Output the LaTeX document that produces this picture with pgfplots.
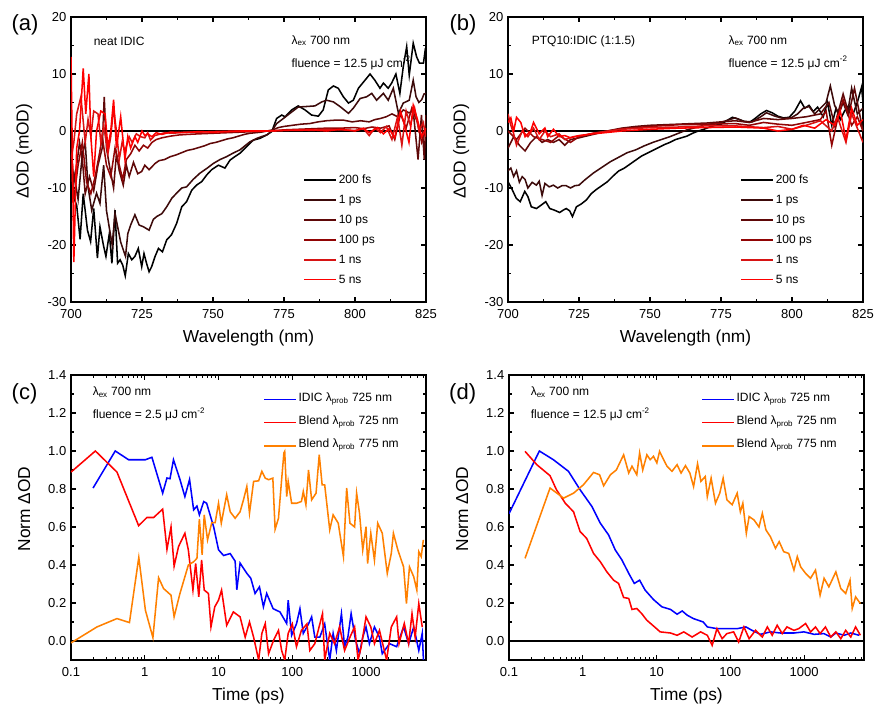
\documentclass[border=0pt]{standalone}
\usepackage{fontspec}
\setmainfont{Liberation Sans}
\usepackage{pgfplots}
\pgfplotsset{compat=1.18}
\definecolor{c0}{RGB}{0,0,0}
\definecolor{c1}{RGB}{60,10,10}
\definecolor{c2}{RGB}{95,8,8}
\definecolor{c3}{RGB}{145,5,5}
\definecolor{c4}{RGB}{215,20,20}
\definecolor{c5}{RGB}{255,0,0}
\definecolor{myblue}{RGB}{0,0,255}
\definecolor{myred}{RGB}{255,0,0}
\definecolor{myorange}{RGB}{255,128,0}
\pgfplotsset{
 myaxis/.style={
  scale only axis, width=266.25pt, height=213.75pt,
  axis line style={line width=1pt},
  tick align=inside, tick pos=both,
  major tick length=3.75pt, minor tick length=2.25pt,
  tick style={black, line width=0.8pt},
  tick label style={font=\fontsize{9.75}{11}\selectfont},
  xticklabel style={yshift=-2pt},
  label style={font=\fontsize{13}{15}\selectfont},
  /pgf/number format/assume math mode=true,
  xlabel style={at={(axis description cs:0.5,-0.128)}, anchor=center},
  ylabel style={at={(axis description cs:-0.132,0.53)}, anchor=center},
  legend cell align=left,
  legend image code/.code={\draw[##1, line width=1.3pt] (0pt,0pt) -- (24pt,0pt);},
  every axis plot/.append style={line width=1.15pt},
  legend style={draw=none, fill=none, font=\fontsize{9}{10}\selectfont, inner sep=0pt, row sep=3pt,
     nodes={inner sep=1.2pt, text height=0.75em, text depth=0.2em}},
 },
 specaxis/.style={myaxis,
  xmin=700, xmax=825, ymin=-30, ymax=20,
  xtick={700,725,750,775,800,825}, ytick={-30,-20,-10,0,10,20},
  minor x tick num=1, minor y tick num=1,
  xlabel={Wavelength (nm)}, ylabel={ΔOD (mOD)},
  legend style={at={(0.654,0.456)}, anchor=north west},
 },
 kinaxis/.style={myaxis,
  xmin=0.1, xmax=6500, ymin=-0.1, ymax=1.4,
  xtick={0.1,1,10,100,1000}, xticklabels={0.1,1,10,100,1000},
  minor xtick={0.2,0.3,0.4,0.5,0.6,0.7,0.8,0.9,2,3,4,5,6,7,8,9,20,30,40,50,60,70,80,90,200,300,400,500,600,700,800,900,2000,3000,4000,5000,6000},
  ytick={0,0.2,0.4,0.6,0.8,1.0,1.2,1.4}, minor y tick num=1,
  yticklabel style={/pgf/number format/.cd, fixed, fixed zerofill, precision=1},
  xlabel={Time (ps)}, ylabel={Norm ΔOD},
  legend style={at={(0.541,0.949)}, anchor=north west,
     nodes={inner sep=1.2pt, text height=0.75em, text depth=0.45em}},
 },
}
\begin{document}
\begin{tikzpicture}
\path[use as bounding box] (0pt,0pt) rectangle (656.25pt,529.5pt);

% ---------------- (a) ----------------
\begin{axis}[specaxis, at={(53.25pt,303pt)}, anchor=south west]
\addplot[black, line width=1.2pt, forget plot] coordinates {(700,0) (825,0)};
\addplot[c0] coordinates {
(700,-9.8) (701,-11.8) (702,-13) (703.2,-19) (704.3,-11) (705.8,-17.4) (706.9,-19.4) (708,-13.6) (709.3,-22.3) (710.2,-16.8) (711.4,-20) (712.3,-22) (713.5,-18) (714.4,-23.2) (715.5,-13.9) (716.4,-23.2) (717.3,-22.6) (718.2,-23.5) (719.1,-25.4) (720.2,-21.5) (721.4,-22.6) (722.5,-22) (723.7,-20.6) (724.9,-23.8) (725.7,-21.5) (726.6,-23.2) (727.5,-24.7) (728.4,-23.8) (729.6,-22) (730.8,-20.6) (732.2,-21.2) (733.7,-19.1) (735.4,-18.2) (737.2,-16.2) (739,-13.3) (740.7,-12.4) (742.5,-10.4) (744.2,-9.5) (746,-8.9) (747.8,-7.7) (749.5,-6.8) (751.9,-6) (754.2,-6.5) (756,-5.1) (757.7,-4.5) (759.5,-3.9) (761.9,-2.7) (764.2,-1.6) (766.5,-1.3) (768.9,-0.7) (770.7,-0.1) (772.4,2.2) (774.2,2.8) (775.4,2.5) (777.7,3.7) (780,4.4) (782.4,3.7) (784.7,2.8) (787.1,2.6) (788.8,3.7) (790.6,7.2) (792.4,7.9) (794.1,7.5) (795.9,6) (797.7,4.9) (799.4,5.4) (801.2,7.5) (803.5,8.9) (805.3,10) (807,8.9) (808.8,7.5) (810,8.4) (811.7,7.5) (812.9,8.4) (814.4,10) (815.8,6.6) (817,11.3) (818.2,14.8) (819.1,9.8) (820.5,15.4) (821.7,13) (822.7,11.9) (824.1,11.9) (824.8,14.5) (825,12)};
\addlegendentry{200 fs}
\addplot[c1] coordinates {
(700,-8.9) (701,-7.4) (702.5,-12) (704,-4) (705,-2) (706,-9.8) (707.3,-13.9) (709,-10.9) (710.2,-12.7) (711.5,-6) (712.5,-14) (713.5,-17) (714.5,-20) (715.5,-14.5) (716.5,-17) (717.5,-19.5) (718.5,-21) (719.2,-22) (720,-18) (721,-16.5) (722.5,-14.7) (724,-16.5) (725.5,-16.8) (727.5,-17.4) (729,-15.5) (730.2,-15) (732,-14.5) (733.7,-13.3) (735.5,-11.8) (737.2,-10.9) (739,-10) (740.7,-9.8) (743,-8.5) (745.4,-7.4) (748,-6.5) (750.1,-5.7) (752.5,-5) (754.8,-4.5) (757,-3.9) (759.5,-3.3) (761.5,-2.5) (763,-1.9) (765.4,-1.3) (767,-1) (768.9,-0.7) (770.7,0) (772.4,1.3) (774.8,2.2) (777.1,3.1) (780,4.2) (783,4.3) (785.9,4.4) (788.3,5.1) (790,5.4) (792.4,5.1) (794.7,4.3) (797.7,3.1) (799.4,4) (801.8,5.7) (804.1,6) (805.9,6.6) (807.6,5.4) (810,6.6) (811.7,5.4) (813.5,7.5) (815.3,3.1) (817,4.9) (819.1,5.4) (820.5,8.9) (821.5,6) (822.5,5) (823.5,5.5) (824.3,6.5) (825,6.6)};
\addlegendentry{1 ps}
\addplot[c2] coordinates {
(700,-3) (701,-9) (702,-6) (703,-2) (704,-5) (705,-11) (706.5,-8) (708,-10.5) (709.5,-6) (711,-3) (711.7,6) (712.5,-3) (713.5,-6) (715,-10) (716,-4) (717,-7) (718.4,-9.5) (719.5,-6) (720.5,-8) (722,-5.5) (723.5,-7.5) (724.9,-7.1) (726,-6) (727.5,-6.8) (729.6,-5.7) (731,-5.2) (733,-5) (735,-4.5) (737,-4.2) (739,-3.8) (741,-3.4) (743,-3.2) (745,-2.9) (747,-2.6) (749,-2.2) (751,-2) (753,-1.7) (755,-1.4) (757,-1.2) (759,-0.9) (761,-0.6) (763,-0.4) (765,-0.3) (767,-0.2) (769,0) (771,0.2) (773,0.6) (775,0.8) (778,1) (781,1.2) (784,1.3) (787,1.6) (790,1.8) (793,1.9) (796,1.9) (799,1.6) (802,1.8) (805,1.6) (807,2) (809,2.2) (811,2.5) (813,3) (815,2.5) (817,3.7) (819,3.2) (820.5,3.5) (821.2,0) (822.2,-5) (823.4,2.8) (824.4,-5) (825,2.8)};
\addlegendentry{10 ps}
\addplot[c3] coordinates {
(700,-5) (701,-12) (702.5,-6) (704,-2) (705.5,-9) (707,-11) (708.5,-8) (710,-4) (711,-1) (712.5,-6) (714,-8) (715.5,-3) (717,-6) (718.2,-8.5) (719.5,-5) (721,-4) (722.5,-2.5) (724,-3.5) (725.5,-2.5) (727,-3) (728.5,-2) (730,-1.5) (732,-1.2) (735,-0.9) (738,-0.7) (741,-0.6) (745,-0.5) (750,-0.4) (755,-0.3) (760,-0.2) (765,-0.1) (770,0) (775,0.2) (780,0.3) (785,0.4) (790,0.5) (795,0.5) (800,0.6) (803,0.4) (806,0.7) (809,0.5) (812,0.9) (814,-1.5) (816,3) (818,0.5) (820,4) (822,1.5) (823.5,-2) (825,0.5)};
\addlegendentry{100 ps}
\addplot[c4] coordinates {
(700,-5) (701,-2) (702,3) (703.5,6) (705,-2) (706,2) (707,-1) (708,3.5) (709.5,3) (710.5,-2) (711.5,1) (713,-4) (714,-1) (715,4) (716,0) (717,-5) (718,-2) (719,-3.5) (720.5,-1) (721.5,-2) (723,-0.5) (724.5,-1) (726,-1.2) (727,-0.3) (728,-1.6) (729.5,-0.8) (731,-0.6) (733,-0.3) (736,-0.4) (740,-0.2) (745,-0.2) (750,-0.1) (760,0) (770,0) (775,0.1) (780,0.2) (785,0.1) (790,0.3) (795,0.2) (800,0.1) (803,0.4) (805,-0.8) (807,0.5) (809,-0.3) (811,0.8) (813,-1.5) (815,2.5) (816.5,-2.5) (818,3.5) (819.5,1) (821,4) (822.5,0) (824,1.5) (825,-1)};
\addlegendentry{1 ns}
\addplot[c5] coordinates {
(700,13) (701,-23) (702,-3) (703,0) (704.3,11) (705.2,3) (706.3,10) (707,-1) (708,-8) (709,0) (710.5,3.5) (712,3) (713,-3) (714,0) (715,5.5) (716,-3) (717.5,2.5) (719,-5) (720,-1) (721,-3) (722.5,-1) (723.5,-2) (725,0) (726,-0.8) (727,-0.5) (728.5,-1) (730,-0.3) (732,-0.6) (735,-0.2) (740,-0.3) (745,-0.1) (750,-0.2) (760,0) (770,0) (775,0.1) (780,0.1) (785,0.2) (790,0) (795,0.3) (800,0) (803,0.5) (805,-0.3) (808,0.6) (810,-0.5) (812,0.4) (814,-1.2) (816,3.5) (817.5,1) (819,-2) (820.5,4.5) (822,2) (823.5,-1) (825,0.5)};
\addlegendentry{5 ns}
\node[anchor=west, font=\fontsize{9}{10}\selectfont] at (axis description cs:0.051,0.916) {neat IDIC};
\node[anchor=west, font=\fontsize{9}{10}\selectfont] at (axis description cs:0.608,0.916) {λ\textsubscript{ex} 700 nm};
\node[anchor=west, font=\fontsize{9}{10}\selectfont] at (axis description cs:0.608,0.839) {fluence = 12.5 μJ cm\textsuperscript{-2}};
\end{axis}

% ---------------- (b) ----------------
\begin{axis}[specaxis, at={(381pt,303pt)}, anchor=south west]
\addplot[black, line width=1.2pt, forget plot] coordinates {(700,0) (825,0)};
\addplot[c0] coordinates {
(700,-8.9) (701.2,-10) (702.9,-11.8) (704.3,-12.4) (705.9,-10.6) (707,-11.5) (708.2,-13.3) (710,-13.6) (711.7,-13) (713.3,-12.4) (714.7,-13.6) (716.4,-13.9) (718.2,-14.3) (719.4,-13.9) (720.5,-13.6) (721.7,-14) (722.7,-15) (724.1,-13.3) (725.8,-12.8) (727.6,-12.1) (729.3,-11) (731,-10.3) (733,-9.6) (735,-8.9) (737,-7.9) (739,-7) (741,-6.5) (743,-5.8) (745,-5.1) (747,-4.4) (749,-3.9) (751,-3.4) (753,-2.9) (755,-2.4) (757,-2) (759,-1.5) (761,-1.2) (763,-0.9) (765,-0.4) (767,0) (769,0.3) (771,0.7) (773,1) (775,1.2) (777,1.8) (779,2.4) (781,2.1) (783,1.7) (785,1.5) (787,2.2) (789,3) (791,3.6) (793,3.2) (795,2.6) (797,2.3) (799,2.4) (801,3.5) (803,5.3) (804.5,4) (806,4.5) (807.5,3.4) (809,4.2) (811,2.5) (812.5,5) (814,1) (815.5,4) (817,2) (818.5,3.5) (820,4.5) (821.5,3) (823,5) (824.5,7.7) (825,5)};
\addlegendentry{200 fs}
\addplot[c1] coordinates {
(700,-7) (701,-6.5) (702,-8) (703,-7) (704,-9) (705,-8) (706,-8.5) (707,-10) (708.5,-9) (710,-9.5) (711,-8.8) (712,-11.3) (713,-9.2) (714.5,-9.8) (716,-9.5) (717.5,-10) (719,-9.6) (720.5,-9.6) (722,-10) (723.5,-9.6) (725,-9.5) (727,-8.6) (730,-7.4) (733,-6.4) (736,-5.4) (739,-4.6) (742,-3.8) (745,-3.3) (748,-2.6) (751,-2) (754,-1.5) (757,-1) (760,-0.4) (763,0.2) (766,0.6) (769,1) (772,1.3) (775,1.5) (778,2) (780,2.3) (783,1.7) (786,1.6) (789,2.5) (791,3.2) (794,2.6) (797,2.2) (800,2.4) (802,3) (804,4) (806,4.3) (808,3) (810,4) (812,5) (813.5,7.9) (815,4.5) (816.5,3) (818,5) (819.5,3) (821,7.5) (823,3) (825,4)};
\addlegendentry{1 ps}
\addplot[c2] coordinates {
(700,-3) (702,-1) (704,-2.5) (706,-3.5) (708,-2) (710,-1) (712,-2) (714,-1.5) (716,-2) (718,-1.5) (720,-2.5) (722,-1.5) (725,-1.2) (730,-0.6) (735,0) (740,0.5) (745,0.8) (750,1) (760,1.2) (770,1.4) (780,1.8) (785,1.5) (790,2.2) (795,2) (800,2.2) (805,2.5) (810,3) (813,5) (815,1) (818,6.5) (820,3) (822,7.5) (825,0)};
\addlegendentry{10 ps}
\addplot[c3] coordinates {
(700,0) (703,-1.5) (706,0.5) (709,-1) (712,-1.5) (715,-2) (718,-0.8) (722,-2) (725,-1) (730,-0.4) (740,0.4) (750,0.8) (760,1.1) (770,1.2) (780,1.3) (785,1) (790,1.5) (795,1.2) (800,1) (805,1.5) (810,2) (812,3.5) (814,-2.5) (816,2) (818,5.5) (821,1) (823,2.5) (825,0)};
\addlegendentry{100 ps}
\addplot[c4] coordinates {
(700,3) (701,1) (702,-0.5) (703,-2.5) (705,0) (707,-1) (709,0.5) (711,-1.5) (713,0) (715,-1) (718,-0.5) (720,-1.5) (723,-1) (726,-0.8) (730,-0.4) (740,0.3) (750,0.6) (760,0.7) (770,0.9) (780,0.9) (790,0.6) (795,0.8) (800,0.3) (805,1) (810,1.8) (814,0) (816,2.5) (819,-2) (821,3) (823,0.5) (825,-2)};
\addlegendentry{1 ns}
\addplot[c5] coordinates {
(700,1.5) (701,2.3) (702,0) (703,2.4) (704.5,1.5) (706,-1) (708,0) (709,1.5) (711,-0.5) (713,0.5) (714,-1) (716,0.3) (718,-1) (720,-0.8) (722,-1.2) (725,-0.8) (730,-0.5) (740,0) (750,0.3) (760,0.5) (770,0.6) (780,0.7) (790,0.5) (795,0) (800,0.3) (804,1) (808,0.5) (812,2) (815,1) (817,3.5) (819,-1.5) (821,4) (823,1) (825,2)};
\addlegendentry{5 ns}
\node[anchor=west, font=\fontsize{9}{10}\selectfont] at (axis description cs:0.054,0.916) {PTQ10:IDIC (1:1.5)};
\node[anchor=west, font=\fontsize{9}{10}\selectfont] at (axis description cs:0.608,0.916) {λ\textsubscript{ex} 700 nm};
\node[anchor=west, font=\fontsize{9}{10}\selectfont] at (axis description cs:0.608,0.839) {fluence = 12.5 μJ cm\textsuperscript{-2}};
\end{axis}

% ---------------- (c) ----------------
\begin{semilogxaxis}[kinaxis, at={(53.25pt,34.5pt)}, anchor=south west]
\addplot[black, line width=1.3pt, forget plot] coordinates {(0.1,0) (6500,0)};
\addplot[myblue] coordinates {
(0.199,0.805) (0.398,1.0) (0.604,0.954) (1.02,0.954) (1.25,0.967) (1.75,0.778) (2.0,0.858) (2.2,0.854) (2.45,0.954) (3.0,0.85) (3.5,0.76) (4.05,0.85) (4.6,0.69) (5.1,0.71) (5.5,0.664) (6.3,0.734) (6.9,0.725) (8.6,0.60) (10,0.48) (11.7,0.45) (14.4,0.46) (16.8,0.42) (17.7,0.27) (19.6,0.41) (24.2,0.356) (27.4,0.33) (31.3,0.25) (35.9,0.285) (40.6,0.18) (45,0.25) (55,0.17) (68,0.153) (84,0.092) (88,0.215) (98,0.03) (114,0.09) (127,0.17) (141,0.04) (166,0.09) (183,0.127) (202,0.02) (236,0.02) (275,0.09) (322,-0.10) (358,0.04) (396,-0.05) (464,0.144) (512,-0.03) (567,0.02) (628,0.144) (720,0.005) (815,-0.067) (902,0.02) (1000,0.074) (1110,-0.014) (1300,0.074) (1520,0.02) (1660,-0.067) (2080,-0.014) (2600,-0.03) (3230,0.074) (3780,-0.014) (4430,0.074) (5190,-0.05) (5780,0.04) (6000,-0.1)};
\addlegendentry{IDIC λ\textsubscript{prob} 725 nm}
\addplot[myred] coordinates {
(0.1,0.889) (0.214,1.0) (0.42,0.889) (0.826,0.607) (1.07,0.65) (1.32,0.65) (1.75,0.694) (2.0,0.482) (2.27,0.60) (2.5,0.394) (2.87,0.497) (3.5,0.567) (3.9,0.479) (4.5,0.268) (4.9,0.408) (5.4,0.232) (5.9,0.426) (6.4,0.268) (7.3,0.25) (7.9,0.074) (8.9,0.18) (10,0.215) (11,0.268) (12.9,0.083) (15.9,0.153) (19.6,0.127) (23,0.02) (26.3,0.10) (29.9,0.02) (35,-0.10) (38.7,0.04) (43,0.092) (47.7,-0.067) (55.8,0.004) (65,0.056) (71.7,-0.05) (79,-0.10) (88,0.04) (100,0.09) (114,-0.03) (133,0.056) (158,0.09) (173,-0.05) (202,-0.014) (257,0.144) (275,-0.10) (322,0.04) (374,-0.014) (438,0.074) (512,-0.05) (605,0.02) (700,0.074) (780,-0.10) (860,-0.03) (1000,0.127) (1160,0.074) (1300,-0.014) (1520,0.056) (1900,-0.10) (2200,0.074) (2600,0.127) (2800,-0.014) (3300,0.092) (3780,-0.014) (4200,0.144) (4630,0.02) (5190,0.197) (5780,0.074)};
\addlegendentry{Blend λ\textsubscript{prob} 725 nm}
\addplot[myorange] coordinates {
(0.1,-0.01) (0.225,0.074) (0.42,0.118) (0.62,0.097) (0.83,0.44) (1.02,0.162) (1.29,0.018) (1.54,0.333) (1.8,0.276) (2.27,0.241) (2.5,0.127) (3.0,0.25) (3.9,0.40) (4.6,0.417) (5.1,0.435) (5.5,0.641) (6.0,0.453) (6.4,0.664) (7.1,0.532) (8.1,0.623) (9.0,0.623) (10,0.725) (10.9,0.62) (12.9,0.77) (14.4,0.68) (16.8,0.646) (19.6,0.68) (21.8,0.743) (24.2,0.813) (26.3,0.673) (29.9,0.84) (35,0.843) (38.7,0.893) (43,0.857) (47.7,0.849) (54.5,0.857) (58.5,0.588) (65,0.646) (71.7,0.849) (77,0.99) (79,0.998) (84,0.76) (88,0.84) (98,0.725) (114,0.725) (133,0.734) (141,0.787) (153,0.717) (166,0.90) (183,0.743) (210,0.778) (232,0.98) (254,0.822) (275,0.822) (322,0.585) (358,0.664) (420,0.62) (494,0.444) (546,0.805) (605,0.62) (700,0.60) (745,0.778) (815,0.673) (902,0.479) (1000,0.602) (1050,0.408) (1160,0.567) (1300,0.426) (1440,0.62) (1660,0.567) (1940,0.356) (2200,0.461) (2350,0.567) (2700,0.479) (3230,0.39) (3530,0.197) (3880,0.39) (4430,0.338) (4880,0.268) (5190,0.47) (5600,0.444) (5980,0.532)};
\addlegendentry{Blend λ\textsubscript{prob} 775 nm}
\node[anchor=west, font=\fontsize{9}{10}\selectfont] at (axis description cs:0.048,0.94) {λ\textsubscript{ex} 700 nm};
\node[anchor=west, font=\fontsize{9}{10}\selectfont] at (axis description cs:0.048,0.863) {fluence = 2.5 μJ cm\textsuperscript{-2}};
\end{semilogxaxis}

% ---------------- (d) ----------------
\begin{semilogxaxis}[kinaxis, at={(381.75pt,34.5pt)}, anchor=south west]
\addplot[black, line width=1.3pt, forget plot] coordinates {(0.1,0) (6500,0)};
\addplot[myblue] coordinates {
(0.1,0.67) (0.258,1.0) (0.40,0.954) (0.64,0.893) (0.92,0.796) (1.33,0.708) (1.73,0.62) (2.24,0.558) (2.76,0.479) (3.4,0.426) (4.2,0.356) (5.0,0.303) (5.9,0.32) (7.0,0.268) (9.1,0.218) (11.8,0.18) (15.5,0.166) (19,0.141) (22.3,0.158) (26,0.136) (31.6,0.118) (43,0.10) (48.8,0.074) (66,0.065) (90,0.065) (124,0.065) (163,0.074) (197,0.056) (257,0.035) (350,0.048) (480,0.042) (730,0.042) (1000,0.048) (1370,0.035) (1860,0.039) (2300,0.021) (2700,0.042) (3500,0.03) (4300,0.042) (5600,0.03)};
\addlegendentry{IDIC λ\textsubscript{prob} 725 nm}
\addplot[myred] coordinates {
(0.165,0.998) (0.238,0.928) (0.36,0.87) (0.44,0.796) (0.58,0.725) (0.75,0.68) (0.92,0.576) (1.13,0.54) (1.40,0.461) (1.73,0.417) (2.12,0.364) (2.62,0.32) (3.06,0.303) (3.58,0.229) (4.2,0.224) (4.65,0.166) (5.4,0.171) (6.3,0.144) (7.4,0.109) (9.1,0.079) (11.2,0.048) (15.5,0.042) (19,0.03) (23.4,0.048) (30.4,0.021) (39.6,0.048) (48.8,0.03) (56.8,-0.023) (66,0.065) (77.5,0.012) (90,0.039) (111,0.048) (130,-0.005) (153,0.074) (180,0.012) (220,0.056) (272,0.021) (318,0.074) (370,0.03) (432,0.083) (506,0.039) (586,0.074) (730,0.056) (847,0.065) (1050,0.092) (1225,0.048) (1430,0.074) (1650,0.039) (1950,0.074) (2300,0.021) (2700,0.048) (3150,0.012) (3670,0.056) (4300,0.021) (5000,0.074) (5800,0.03)};
\addlegendentry{Blend λ\textsubscript{prob} 725 nm}
\addplot[myorange] coordinates {
(0.165,0.435) (0.36,0.805) (0.55,0.752) (0.75,0.778) (1.02,0.822) (1.40,0.887) (1.69,0.875) (1.92,0.817) (2.37,0.875) (2.85,0.90) (3.58,0.98) (4.2,0.884) (4.65,0.92) (5.4,0.875) (5.9,0.99) (6.5,0.90) (7.4,0.98) (8.2,0.954) (9.1,0.972) (10.1,0.937) (11.0,0.998) (12.5,0.954) (13.9,0.919) (16.2,0.893) (19,0.928) (21.5,0.884) (24.7,0.923) (28.3,0.884) (31.8,0.813) (36,0.933) (40,0.84) (45.8,0.866) (48.8,0.76) (55,0.857) (63,0.725) (72,0.778) (80,0.857) (90,0.743) (106,0.717) (124,0.778) (137,0.68) (148,0.725) (165,0.567) (180,0.655) (210,0.637) (245,0.60) (272,0.672) (304,0.585) (350,0.549) (410,0.488) (460,0.523) (530,0.47) (620,0.461) (730,0.373) (810,0.444) (900,0.39) (1050,0.356) (1225,0.33) (1430,0.373) (1650,0.241) (1870,0.33) (2170,0.285) (2700,0.364) (3150,0.276) (3670,0.25) (4200,0.32) (4500,0.171) (5000,0.232) (5800,0.197)};
\addlegendentry{Blend λ\textsubscript{prob} 775 nm}
\node[anchor=west, font=\fontsize{9}{10}\selectfont] at (axis description cs:0.048,0.94) {λ\textsubscript{ex} 700 nm};
\node[anchor=west, font=\fontsize{9}{10}\selectfont] at (axis description cs:0.048,0.863) {fluence = 12.5 μJ cm\textsuperscript{-2}};
\end{semilogxaxis}

\node[font=\fontsize{16.5}{18}\selectfont] at (18.75pt,510.75pt) {(a)};
\node[font=\fontsize{16.5}{18}\selectfont] at (347.25pt,510.75pt) {(b)};
\node[font=\fontsize{16.5}{18}\selectfont] at (18.4pt,234pt) {(c)};
\node[font=\fontsize{16.5}{18}\selectfont] at (347pt,234pt) {(d)};
\end{tikzpicture}
\end{document}
